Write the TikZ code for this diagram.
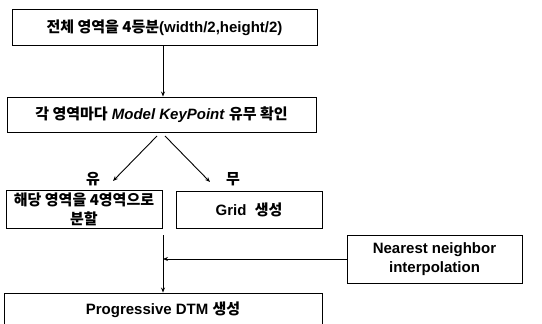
\documentclass[tikz,border=0pt]{standalone}
\usepackage{fontspec}
\setmainfont{Liberation Sans}
\newfontfamily\krfont{Noto Sans CJK KR}
\newcommand{\ko}[1]{{\krfont\bfseries #1}}
\usetikzlibrary{arrows.meta}
\tikzset{
  box/.style={draw, line width=0.9pt, rectangle, align=center, font=\bfseries\fontsize{15}{18}\selectfont, inner sep=0pt},
  conn/.style={line width=0.9pt, -{Stealth[length=5pt,width=4pt]}},
  lbl/.style={font=\bfseries\fontsize{15}{18}\selectfont}
}
\begin{document}
\begin{tikzpicture}[x=1pt,y=-1pt]
\useasboundingbox (0,0) rectangle (542,324);
\clip (0,0) rectangle (542,324);
\node[box, minimum width=305, minimum height=36] (b1) at (164.5,27.5) {\ko{전체 영역을 4등분}(width/2,height/2)};
\node[box, minimum width=309, minimum height=35] (b2) at (161.5,114.5) {\ko{각 영역마다} \textit{Model KeyPoint} \ko{유무 확인}};
\node[box, minimum width=156, minimum height=38] (b3) at (84,209.5) {\ko{해당 영역을 4영역으로}\\[1pt]\ko{분할}};
\node[box, minimum width=146, minimum height=37] (b4) at (249,209.5) {Grid\ \ \ko{생성}};
\node[box, minimum width=175, minimum height=48] (nn) at (434.5,259) {Nearest neighbor\\[1pt]interpolation};
\node[box, minimum width=318, minimum height=34] (b5) at (163,310) {Progressive DTM \ko{생성}};
\node[lbl] (yu) at (93,179) {\ko{유}};
\node[lbl] (mu) at (233,179) {\ko{무}};
\coordinate (s1) at (157,136);
\coordinate (e1) at (113,181);
\coordinate (s2) at (165,136);
\coordinate (e2) at (210,182);
\coordinate (m0) at (163,235);
\coordinate (mj) at (163,259);
\draw[conn] (b1.south -| 163,0) -- (b2.north -| 163,0);
\draw[conn] (s1) -- (e1);
\draw[conn] (s2) -- (e2);
\draw[conn] (m0) -- (b5.north -| mj);
\draw[conn] (nn.west) -- (mj);
\end{tikzpicture}
\end{document}
